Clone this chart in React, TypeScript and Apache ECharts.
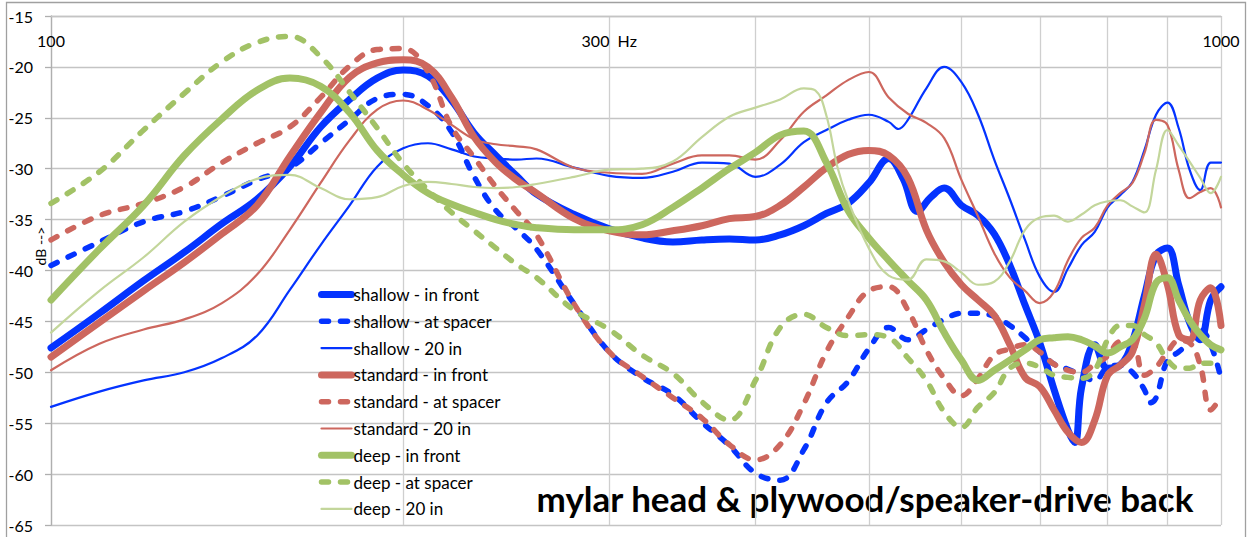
import React, { useEffect, useRef } from 'react';
import * as echarts from 'echarts';

const FONT = 'Lato, "Open Sans", sans-serif';

const BLUE = '#0433FF';
const RED = '#CD675E';
const GREEN = '#A2C266';
const LIGHT_GREEN = '#C3D69B';

const GRID_FREQS = [100, 200, 300, 400, 500, 600, 700, 800, 900, 1000];
const LABEL_FREQS = [100, 300, 1000];
const Y_MIN = -65;
const Y_MAX = -15;
const Y_STEP = 5;

const shallowFront: [number, number][] = [
  [100, -47.6], [110, -44.2], [120, -41.0], [130, -38.2], [140, -35.4], [150, -33.0], [160, -29.8], [170, -25.9],
  [180, -23.2], [190, -21.1], [200, -20.3], [210, -20.9], [220, -23.3], [230, -26.5], [240, -28.7], [250, -30.7],
  [260, -32.5], [280, -34.5], [300, -35.9], [320, -36.8], [340, -37.2], [360, -37.0], [380, -36.9], [400, -37.0],
  [420, -36.5], [440, -35.6], [460, -34.4], [480, -33.4], [500, -31.4], [520, -29.0], [535, -31.0], [550, -34.2],
  [565, -32.8], [580, -31.9], [600, -33.6], [620, -34.6], [640, -36.4], [660, -39.5], [680, -43.4], [700, -47.1],
  [720, -51.7], [740, -55.7], [750, -56.9], [760, -51.5], [780, -47.3], [800, -49.6], [820, -49.3], [840, -47.0],
  [860, -42.5], [880, -38.5], [900, -37.8], [920, -41.4], [940, -45.1], [960, -46.8], [980, -42.9], [1000, -41.6],
];

const shallowSpacer: [number, number][] = [
  [100, -39.5], [110, -37.2], [120, -35.2], [130, -34.2], [140, -32.7], [150, -31.1], [160, -29.9], [170, -27.5],
  [180, -25.2], [190, -23.1], [200, -22.7], [210, -23.8], [220, -26.4], [230, -30.8], [240, -34.1], [250, -35.9],
  [260, -37.9], [280, -43.3], [300, -48.0], [320, -50.5], [340, -52.2], [360, -54.9], [380, -57.2], [400, -59.9],
  [420, -60.6], [440, -57.6], [460, -53.0], [480, -50.9], [500, -47.7], [520, -45.6], [540, -46.8], [560, -45.8],
  [580, -44.8], [600, -44.2], [620, -44.2], [640, -44.5], [660, -45.4], [680, -46.6], [700, -48.0], [720, -49.2],
  [740, -49.7], [760, -50.3], [780, -50.8], [800, -49.5], [820, -49.3], [840, -50.0], [860, -51.7], [870, -53.0],
  [880, -52.5], [900, -48.8], [920, -48.0], [940, -47.0], [960, -45.8], [980, -47.3], [1000, -50.6],
];

const shallow20: [number, number][] = [
  [100, -53.4], [110, -51.9], [120, -50.8], [130, -50.0], [140, -48.6], [150, -46.4], [160, -41.9], [170, -37.5],
  [180, -33.6], [190, -29.8], [200, -28.0], [210, -27.5], [220, -28.1], [230, -28.8], [240, -29.0], [250, -29.1],
  [260, -29.0], [280, -29.9], [300, -30.7], [320, -30.9], [340, -30.3], [360, -29.4], [380, -29.5], [400, -30.8],
  [420, -29.6], [440, -27.4], [460, -26.2], [480, -25.2], [500, -24.7], [520, -25.4], [530, -26.1], [540, -25.2],
  [560, -22.1], [580, -20.0], [600, -21.5], [620, -24.7], [640, -29.1], [660, -33.0], [680, -37.0], [700, -40.6],
  [720, -42.1], [740, -39.8], [760, -37.5], [780, -36.2], [800, -33.8], [820, -32.6], [840, -31.3], [860, -28.2],
  [880, -24.7], [900, -23.5], [920, -26.0], [940, -30.1], [960, -32.1], [980, -29.4], [1000, -29.4],
];

const standardFront: [number, number][] = [
  [100, -48.5], [110, -45.1], [120, -42.0], [130, -39.2], [140, -36.4], [150, -33.6], [160, -28.8], [170, -24.5],
  [180, -21.0], [190, -19.6], [200, -19.3], [210, -20.0], [220, -23.0], [230, -26.9], [240, -29.4], [250, -31.1],
  [260, -32.4], [280, -34.9], [300, -36.1], [320, -36.5], [340, -36.1], [360, -35.6], [380, -34.9], [400, -34.7],
  [420, -33.6], [440, -31.8], [460, -29.9], [480, -28.6], [500, -28.2], [520, -28.7], [540, -30.9], [560, -36.0],
  [580, -39.2], [600, -41.4], [620, -42.9], [640, -44.4], [660, -47.3], [680, -50.5], [700, -51.4], [720, -53.7],
  [740, -55.9], [760, -56.9], [780, -54.7], [800, -50.3], [820, -49.3], [840, -48.0], [860, -43.4], [880, -38.4],
  [900, -41.4], [920, -46.3], [940, -46.8], [960, -42.9], [980, -41.7], [1000, -45.4],
];

const standardSpacer: [number, number][] = [
  [100, -37.0], [110, -34.6], [120, -33.4], [130, -31.8], [140, -29.4], [150, -27.5], [160, -25.9], [170, -23.0],
  [180, -19.9], [190, -18.3], [200, -18.2], [210, -20.5], [220, -25.9], [230, -28.9], [240, -31.8], [250, -34.2],
  [260, -36.5], [280, -43.3], [300, -48.0], [320, -50.4], [340, -52.5], [360, -54.5], [380, -57.1], [400, -58.6],
  [420, -57.1], [440, -53.1], [460, -48.0], [480, -44.6], [500, -42.0], [520, -41.6], [540, -43.9], [560, -47.8],
  [580, -50.6], [600, -52.3], [620, -50.6], [640, -48.3], [660, -47.7], [680, -47.3], [700, -48.0], [720, -49.2],
  [740, -49.8], [760, -50.0], [780, -49.2], [800, -48.4], [820, -47.0], [840, -47.1], [860, -50.3], [880, -49.5],
  [900, -48.0], [920, -46.9], [940, -47.1], [960, -49.3], [980, -53.7], [1000, -52.4],
];

const standard20: [number, number][] = [
  [100, -49.8], [110, -47.2], [120, -45.8], [130, -44.8], [140, -43.2], [150, -40.4], [160, -36.0], [170, -31.4],
  [180, -27.2], [190, -24.2], [200, -23.3], [210, -24.2], [220, -25.7], [230, -27.1], [240, -27.6], [250, -27.8],
  [260, -28.1], [280, -29.9], [300, -30.4], [320, -30.5], [340, -29.5], [360, -28.7], [380, -28.7], [400, -29.1],
  [420, -27.2], [440, -24.4], [460, -22.8], [480, -21.3], [500, -20.5], [520, -23.0], [540, -24.6], [560, -25.5],
  [580, -27.0], [600, -31.1], [620, -34.7], [640, -38.3], [660, -40.7], [680, -42.0], [700, -43.2], [720, -42.1],
  [740, -39.0], [760, -36.8], [780, -35.8], [800, -33.6], [820, -32.4], [840, -31.4], [860, -28.5], [880, -25.2],
  [900, -25.7], [920, -30.1], [940, -32.9], [960, -32.3], [980, -31.9], [1000, -33.8],
];

const deepFront: [number, number][] = [
  [100, -42.9], [110, -37.9], [120, -33.6], [130, -28.7], [140, -25.1], [150, -22.3], [160, -21.1], [170, -21.9],
  [180, -24.5], [190, -28.2], [200, -30.6], [210, -32.4], [220, -33.5], [230, -34.3], [240, -35.0], [250, -35.5],
  [260, -35.8], [280, -36.0], [300, -36.0], [320, -35.5], [340, -33.8], [360, -31.9], [380, -30.0], [400, -28.4],
  [420, -26.7], [440, -26.3], [460, -29.4], [480, -34.1], [500, -36.8], [520, -39.0], [540, -41.0], [560, -42.9],
  [580, -46.1], [600, -48.8], [620, -50.8], [640, -49.8], [660, -48.8], [680, -47.8], [700, -46.8], [720, -46.6],
  [740, -46.5], [760, -46.8], [780, -47.4], [800, -48.1], [820, -47.5], [840, -46.8], [860, -44.7], [880, -41.2],
  [900, -40.7], [920, -42.9], [940, -44.9], [960, -46.3], [980, -47.3], [1000, -47.8],
];

const deepSpacer: [number, number][] = [
  [100, -33.4], [110, -30.3], [120, -26.2], [130, -22.6], [140, -19.5], [150, -17.6], [160, -17.0], [170, -19.0],
  [180, -22.5], [190, -26.0], [200, -29.5], [210, -32.1], [220, -34.3], [230, -36.1], [240, -37.8], [250, -39.4],
  [260, -40.7], [280, -43.9], [300, -45.8], [320, -48.3], [340, -50.1], [360, -52.9], [380, -54.7], [400, -50.8],
  [420, -45.6], [440, -44.3], [460, -45.6], [480, -46.4], [500, -46.3], [520, -46.6], [540, -48.6], [560, -50.8],
  [580, -53.9], [600, -55.4], [620, -53.4], [640, -52.0], [660, -49.6], [680, -49.1], [700, -49.5], [720, -50.3],
  [740, -50.5], [760, -50.6], [780, -49.8], [800, -46.8], [820, -45.4], [840, -45.4], [860, -46.3], [880, -47.1],
  [900, -48.8], [920, -49.6], [940, -49.6], [960, -49.1], [980, -49.1], [1000, -49.1],
];

const deep20: [number, number][] = [
  [100, -46.1], [110, -42.0], [120, -38.7], [130, -35.2], [140, -32.7], [150, -31.0], [160, -30.6], [170, -31.9],
  [180, -33.0], [190, -32.8], [200, -31.7], [210, -31.3], [220, -31.5], [230, -31.8], [240, -31.9], [250, -31.8],
  [260, -31.5], [280, -30.8], [300, -30.1], [320, -30.0], [340, -29.3], [360, -26.9], [380, -24.9], [400, -24.0],
  [420, -23.2], [440, -22.1], [450, -22.3], [460, -24.8], [470, -29.8], [480, -33.1], [500, -37.8], [520, -40.5],
  [540, -40.9], [560, -38.9], [580, -39.1], [600, -40.2], [620, -41.4], [640, -41.1], [660, -39.1], [680, -36.0],
  [700, -34.8], [720, -34.6], [740, -35.2], [760, -34.5], [780, -33.6], [800, -33.2], [820, -33.1], [840, -33.7],
  [860, -34.3], [880, -30.1], [900, -26.2], [920, -27.7], [940, -29.3], [960, -30.9], [980, -32.4], [1000, -30.8],
];

type Style = 'front' | 'spacer' | 'thin';
const SERIES: { name: string; data: [number, number][]; color: string; kind: Style }[] = [
  { name: 'shallow - in front', data: shallowFront, color: BLUE, kind: 'front' },
  { name: 'shallow - at spacer', data: shallowSpacer, color: BLUE, kind: 'spacer' },
  { name: 'shallow - 20 in', data: shallow20, color: BLUE, kind: 'thin' },
  { name: 'standard - in front', data: standardFront, color: RED, kind: 'front' },
  { name: 'standard - at spacer', data: standardSpacer, color: RED, kind: 'spacer' },
  { name: 'standard - 20 in', data: standard20, color: RED, kind: 'thin' },
  { name: 'deep - in front', data: deepFront, color: GREEN, kind: 'front' },
  { name: 'deep - at spacer', data: deepSpacer, color: GREEN, kind: 'spacer' },
  { name: 'deep - 20 in', data: deep20, color: LIGHT_GREEN, kind: 'thin' },
];

function lineStyleFor(kind: Style, color: string) {
  if (kind === 'front') return { color, width: 7, type: 'solid', cap: 'round', join: 'round' };
  if (kind === 'spacer') return { color, width: 5.5, type: [7, 12], cap: 'round', join: 'round' };
  return { color, width: 2.2, type: 'solid', cap: 'round', join: 'round' };
}

export default function App() {
  const ref = useRef<HTMLDivElement>(null);
  useEffect(() => {
    document.body.style.margin = '0';
    const chart = echarts.init(ref.current!, null, { renderer: 'svg' });
    const option: any = {
      animation: false,
      backgroundColor: '#ffffff',
      textStyle: { fontFamily: FONT },
      grid: { left: 51, right: 29, top: 16, bottom: 12, containLabel: false },
      xAxis: {
        type: 'log',
        logBase: 10,
        min: 100,
        max: 1000,
        position: 'top',
        axisLine: { show: true, lineStyle: { color: '#C4C4C4', width: 1.3 } },
        axisTick: { show: false, customValues: GRID_FREQS },
        axisLabel: {
          inside: true,
          margin: 16,
          customValues: LABEL_FREQS,
          fontSize: 16,
          color: '#000',
          fontFamily: FONT,
          formatter: (v: number) => {
            const r = Math.round(v);
            return r === 300 ? '300  Hz' : String(r);
          },
        },
        splitLine: { show: true, lineStyle: { color: '#CFCFCF', width: 1.3 } },
      },
      yAxis: {
        type: 'value',
        min: Y_MIN,
        max: Y_MAX,
        interval: Y_STEP,
        axisLine: { show: true, lineStyle: { color: '#AFAFAF', width: 1.3 } },
        axisTick: { show: true, length: 6, lineStyle: { color: '#AFAFAF', width: 1.3 } },
        axisLabel: { fontSize: 16, color: '#000', margin: 18, fontFamily: FONT },
        splitLine: { show: true, lineStyle: { color: '#C4C4C4', width: 1.3 } },
      },
      legend: {
        orient: 'vertical',
        left: 318,
        top: 286,
        padding: 0,
        itemWidth: 30,
        itemHeight: 14,
        itemGap: 9.8,
        selectedMode: false,
        itemStyle: { opacity: 0 },
        textStyle: { fontSize: 17, color: '#000', fontFamily: FONT, padding: [0, 0, 0, -3] },
        data: SERIES.map((s) => ({ name: s.name, lineStyle: lineStyleFor(s.kind, s.color) })),
      },
      graphic: [
        {
          type: 'rect',
          silent: true,
          shape: { x: 6.5, y: 2.5, width: 1239, height: 560 },
          style: { fill: 'none', stroke: '#A0A0A0', lineWidth: 1.3 },
        },
        {
          type: 'text',
          x: 40,
          y: 246,
          rotation: Math.PI / 2,
          style: {
            text: 'dB -->',
            fontSize: 14,
            fontFamily: FONT,
            fill: '#000',
            textAlign: 'center',
            textVerticalAlign: 'middle',
          },
        },
        {
          type: 'text',
          x: 865,
          y: 498,
          style: {
            text: 'mylar head & plywood/speaker-drive back',
            fontSize: 35,
            fontWeight: 'bold',
            fontFamily: FONT,
            fill: '#000',
            textAlign: 'center',
            textVerticalAlign: 'middle',
          },
        },
      ],
      series: SERIES.map((s) => ({
        name: s.name,
        type: 'line',
        data: s.data,
        smooth: 0.4,
        symbol: 'none',
        showSymbol: false,
        color: s.color,
        itemStyle: { color: s.color },
        lineStyle: lineStyleFor(s.kind, s.color),
        emphasis: { disabled: true },
      })),
    };
    chart.setOption(option);
    return () => chart.dispose();
  }, []);
  return <div ref={ref} style={{ width: 1250, height: 537 }} />;
}
